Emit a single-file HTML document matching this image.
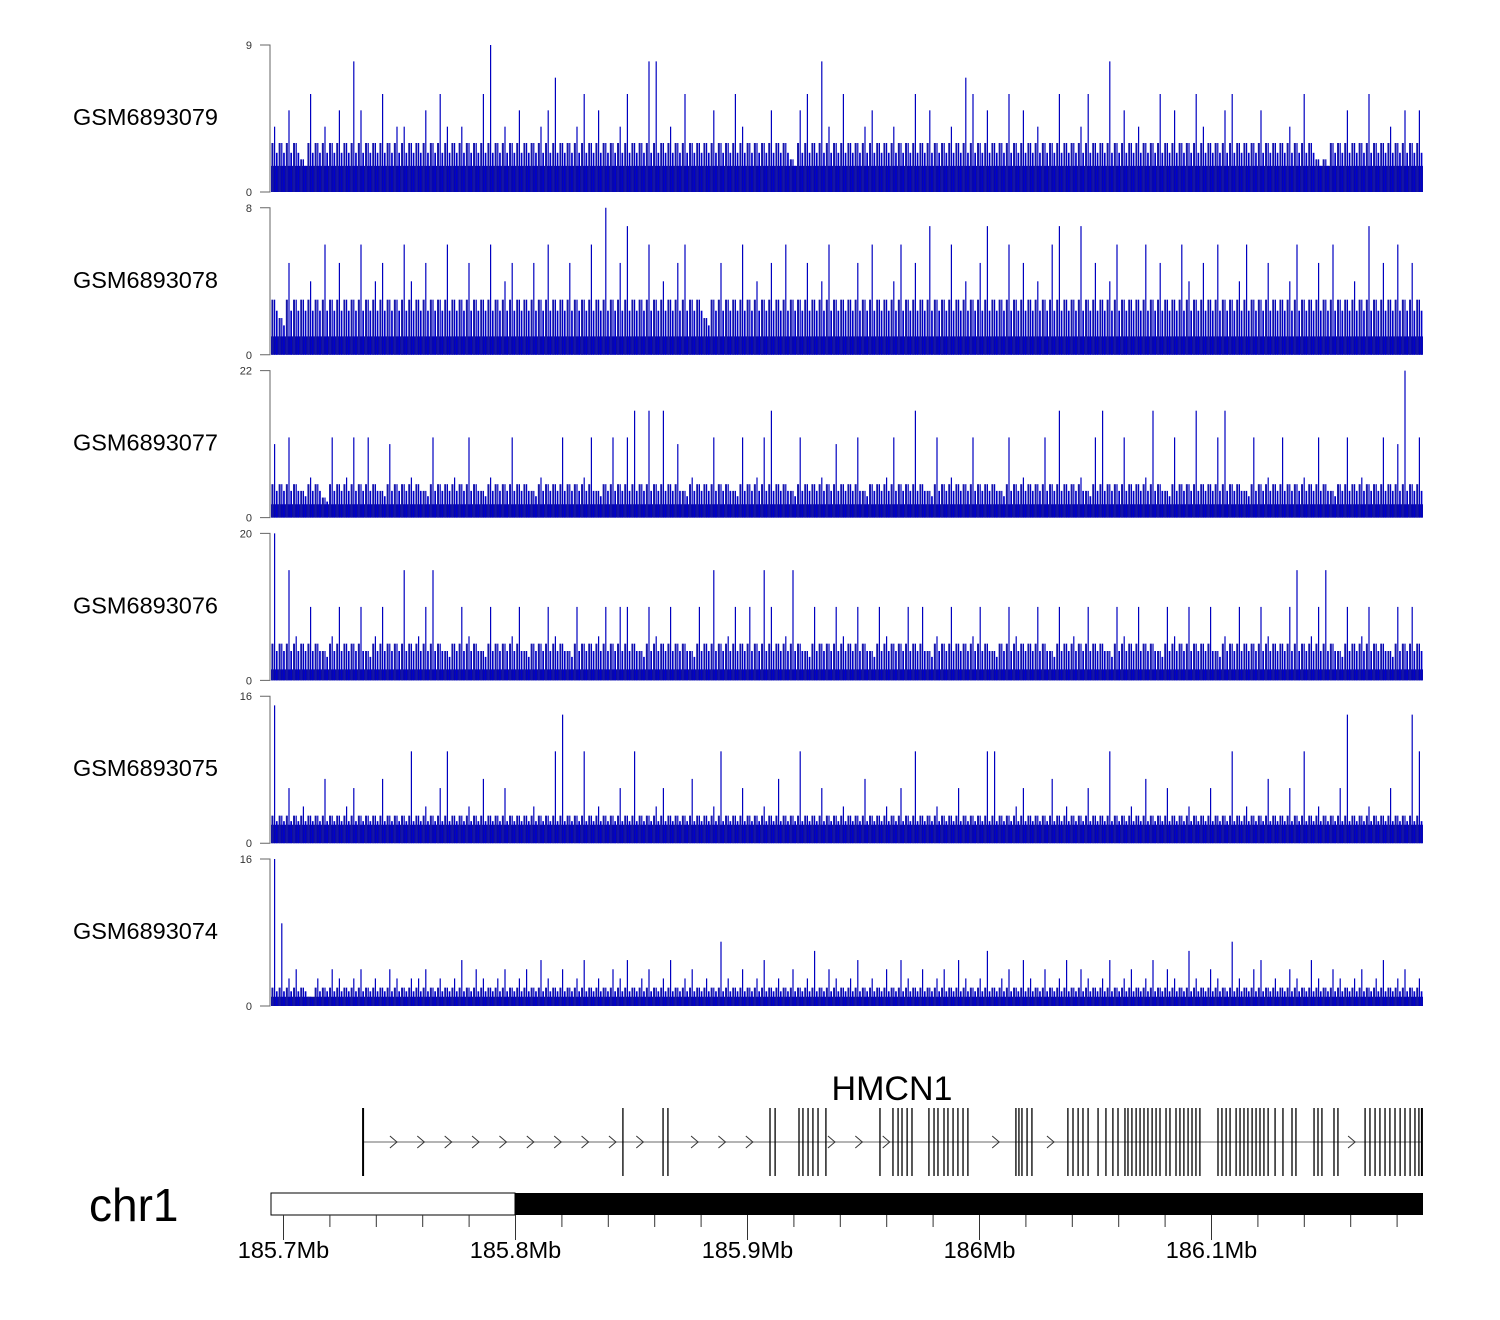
<!DOCTYPE html>
<html><head><meta charset="utf-8"><style>
body{margin:0;background:#fff;}
svg{display:block;font-family:"Liberation Sans",sans-serif;}
</style></head><body>
<svg id="chart" width="1500" height="1320" viewBox="0 0 1500 1320" xmlns="http://www.w3.org/2000/svg"></svg>
<script>
const trackNames=["GSM6893079","GSM6893078","GSM6893077","GSM6893076","GSM6893075","GSM6893074"];
const trackMax=[9,8,22,20,16,16];
const t1=[4,3,5,3,2,6,3,4,3,5,3,8,5,3,3,6,3,4,4,3,3,5,3,6,4,3,4,3,3,6,9,3,4,3,5,3,3,4,5,7,3,3,4,6,3,5,3,3,4,6,3,3,8,8,3,4,3,6,3,3,3,5,3,3,6,4,3,3,3,5,3,3,2,5,6,3,8,4,3,6,3,3,4,5,3,3,4,3,3,6,3,5,3,3,4,3,7,6,3,5,3,3,6,3,5,3,4,3,3,6,3,3,4,6,3,3,8,3,5,3,4,3,3,6,3,5,3,3,6,4,3,3,5,6,3,3,3,5,3,3,3,4,3,6,3,2,2,3,3,5,3,3,6,3,3,4,3,5,3,5];
const t2=[3,2,5,3,3,4,3,6,3,5,3,3,6,3,4,5,3,3,6,4,3,5,3,3,6,3,3,5,3,3,6,3,4,5,3,3,5,3,6,3,3,5,3,3,6,3,8,3,5,7,3,3,6,3,4,3,5,6,3,3,2,3,5,3,3,6,3,4,3,5,3,6,3,3,5,3,4,6,3,3,3,5,3,6,3,3,4,6,3,5,3,7,3,3,6,3,4,3,5,7,3,3,6,3,5,3,4,3,6,7,3,3,7,3,5,3,4,6,3,3,3,6,3,5,3,3,6,4,3,5,3,6,3,3,4,6,3,3,5,3,3,4,6,3,3,5,3,6,3,3,4,3,7,3,5,3,6,3,5,3];
const t3=[11,5,12,5,4,6,5,3,12,5,6,12,5,12,5,4,11,5,5,6,5,4,12,5,5,6,5,12,5,4,6,5,5,12,5,5,4,6,5,5,12,5,5,6,12,4,5,12,5,12,16,5,16,5,16,5,11,4,6,5,5,12,5,5,4,12,5,6,12,16,5,5,4,12,5,5,6,5,11,5,5,12,4,5,5,6,12,5,5,16,5,4,12,5,6,5,5,12,5,5,5,4,12,5,6,5,5,12,5,16,5,5,6,4,12,16,5,5,12,5,5,6,16,5,4,12,5,5,16,5,5,12,16,5,5,4,12,5,6,5,12,5,5,6,5,12,5,4,5,12,5,6,5,5,12,5,11,22,5,12];
const t4=[20,5,15,6,5,10,5,4,6,10,5,5,10,4,6,10,5,5,15,5,6,10,15,5,4,5,10,6,5,4,10,5,5,6,10,4,5,5,10,6,5,4,10,5,5,6,10,5,10,10,5,4,10,6,5,10,5,5,4,10,5,15,5,6,10,5,10,5,15,10,5,6,15,5,4,10,5,5,10,6,5,10,5,4,10,6,5,5,10,5,10,4,6,5,10,5,5,6,10,5,4,5,10,6,5,5,10,5,4,10,5,6,5,10,5,5,4,10,6,5,10,5,5,4,10,6,5,10,5,5,10,4,6,5,10,5,5,10,6,5,5,10,15,5,6,10,15,5,4,10,5,6,10,5,5,4,10,5,10,5];
const t5=[15,3,6,3,4,3,3,7,3,3,4,6,3,3,3,7,3,3,3,10,3,4,3,6,10,3,3,4,3,7,3,3,6,3,3,3,4,3,3,10,14,3,3,10,3,4,3,3,6,3,10,3,3,4,6,3,3,3,7,3,3,4,10,3,3,6,3,3,4,3,7,3,3,10,3,3,6,3,3,4,3,3,7,3,3,4,3,6,3,10,3,3,4,3,3,6,3,3,3,10,10,3,3,4,6,3,3,3,7,3,4,3,3,6,3,3,10,3,3,4,3,7,3,3,6,3,3,4,3,3,6,3,3,10,3,4,3,3,7,3,3,6,3,10,3,4,3,3,6,14,3,3,4,3,3,6,3,3,14,10];
const t6=[16,9,3,4,2,1,3,2,4,3,2,3,4,2,3,2,4,3,2,3,3,4,2,3,2,3,5,2,4,3,2,3,4,2,3,4,2,5,3,2,4,2,3,5,2,3,2,4,3,5,2,3,4,2,3,5,2,3,4,2,3,2,7,3,2,4,2,3,5,2,3,2,4,2,3,6,2,4,3,2,3,5,2,3,2,4,2,5,3,2,4,2,3,4,2,5,3,2,3,6,2,3,4,2,5,3,2,4,2,3,5,2,4,3,2,3,5,2,3,4,2,3,5,2,4,3,2,6,3,2,4,3,2,7,3,2,4,5,2,3,2,4,3,2,5,3,2,4,3,2,3,4,2,3,5,2,3,4,2,3];
const trackValues=[t1,t2,t3,t4,t5,t6];
const axisTicks=["185.7Mb","185.8Mb","185.9Mb","186Mb","186.1Mb"];
const exonKb=[34.3,146.3,163.6,165.7,209.7,211.9,222.2,223.9,226.1,228.2,230.4,233.8,257.1,262.7,264.9,266.6,268.8,270.9,278.2,280.4,282.1,284.7,286.4,288.6,290.7,292.9,295.0,315.7,317.0,318.3,320.5,322.6,338.1,340.3,342.5,344.6,346.8,351.1,354.5,357.5,359.7,362.7,364.0,365.7,367.5,369.2,370.9,372.6,374.4,376.1,377.8,380.4,382.1,384.7,386.4,388.1,389.9,391.6,393.3,395.0,402.8,404.5,406.3,408.0,410.6,412.3,414.0,415.7,417.5,419.2,420.9,422.6,424.4,427.4,430.8,434.7,436.4,444.2,445.9,447.6,452.8,454.5,466.2,468.3,470.5,472.6,474.8,476.9,479.1,481.3,483.4,485.6,487.7,489.4,490.7];
const geneName="HMCN1";

const svg=document.getElementById('chart');
const NS="http://www.w3.org/2000/svg";
function mk(tag,attrs,parent){const e=document.createElementNS(NS,tag);for(const k in attrs)e.setAttribute(k,attrs[k]);(parent||svg).appendChild(e);return e;}
const X0=271,X1=1423;
const caps=[1.6,1,2,1.5,2,1];
const typ=[3,3,5,5,3,2];
function gx(kb){return 283.5+kb*2.32;}

trackNames.forEach((name,ti)=>{
  const top=45+ti*162.8, bot=top+147;
  const g=mk('g',{});
  
  
  const vals=trackValues[ti], n=vals.length, bw=(X1-X0)/n;
  const y=v=>bot-v/trackMax[ti]*147;
  let d='M'+X0+','+bot;
  vals.forEach((v,i)=>{const h=y(Math.min(v,caps[ti]));d+=' L'+(X0+i*bw).toFixed(1)+','+h.toFixed(1)+' L'+(X0+(i+1)*bw).toFixed(1)+','+h.toFixed(1);});
  d+=' L'+X1+','+bot+'Z';
  const band=mk('path',{d:d,fill:'#10109a'},g);
  
  
  vals.forEach((v,i)=>{
    const cx=X0+(i+0.5)*bw;
    const a=mk('line',{x1:cx-bw*0.3,x2:cx-bw*0.3,y1:bot,y2:y(Math.min(v,typ[ti])),stroke:'#1515a8','stroke-width':2},g);
    
    
    const b=mk('line',{x1:cx+bw*0.3,x2:cx+bw*0.3,y1:bot,y2:y(Math.min(v,typ[ti])*0.8),stroke:'#0000cc','stroke-width':1.7},g);
    
    
    const ln=mk('line',{x1:cx,x2:cx,y1:bot,y2:y(v),stroke:'#0000c0','stroke-width':1.2},g);
    
    
  });
  const ax=mk('path',{d:`M260,${top} H270 V${bot} H260`,fill:'none',stroke:'#666','stroke-width':1},g);
  
  
  const tmx=mk('text',{x:252,y:top+4,'font-size':11,'text-anchor':'end',fill:'#333'},g);tmx.textContent=trackMax[ti];
  
  const t0=mk('text',{x:252,y:bot+4,'font-size':11,'text-anchor':'end',fill:'#333'},g);t0.textContent='0';
  
  const lab=mk('text',{x:218,y:top+80,'font-size':23.5,'text-anchor':'end',fill:'#000'},g);lab.textContent=name;
  
});

const gg=mk('g',{});


const gl=mk('text',{x:892,y:1100,'font-size':34,'text-anchor':'middle',fill:'#000'},gg);gl.textContent=geneName;

const gs=gx(exonKb[0]), ge=gx(exonKb[exonKb.length-1]);
const line=mk('line',{x1:gs,x2:ge,y1:1142,y2:1142,stroke:'#888','stroke-width':1.3},gg);

for(let kb=exonKb[0]+1.5;kb<exonKb[exonKb.length-1];kb+=11.8){
  const px=gx(kb);
  if(exonKb.some(e=>Math.abs(gx(e)-px)<6))continue;
  const ch=mk('path',{d:`M${px-4},${1136} L${px+3},1142 L${px-4},1148`,fill:'none',stroke:'#333','stroke-width':1},gg);
  
}
exonKb.forEach((kb,i)=>{
  const px=gx(kb);
  const ex=mk('line',{x1:px,x2:px,y1:1108,y2:1176,stroke:'#000','stroke-width':(i==0||i==exonKb.length-1)?2:1.3},gg);
  
});

const cg=mk('g',{});


const chr=mk('text',{x:89,y:1221,'font-size':46,fill:'#000'},cg);chr.textContent='chr1';

const wb=mk('rect',{x:X0,y:1193,width:515-X0,height:22,fill:'#fff',stroke:'#000','stroke-width':1},cg);

const bb=mk('rect',{x:515,y:1193,width:X1-515,height:22,fill:'#000'},cg);

for(let k=0;k<=24;k++){
  const kb=k*20, px=gx(kb);
  if(px>X1)break;
  const major=k%5===0;
  const tk=mk('line',{x1:px,x2:px,y1:1215,y2:major?1240:1227,stroke:'#333','stroke-width':1},cg);
  
  if(major){
    const tl=mk('text',{x:px,y:1258,'font-size':23.5,'text-anchor':'middle',fill:'#000'},cg);
    tl.textContent=axisTicks[k/5];
    
  }
}
</script>
</body></html>
